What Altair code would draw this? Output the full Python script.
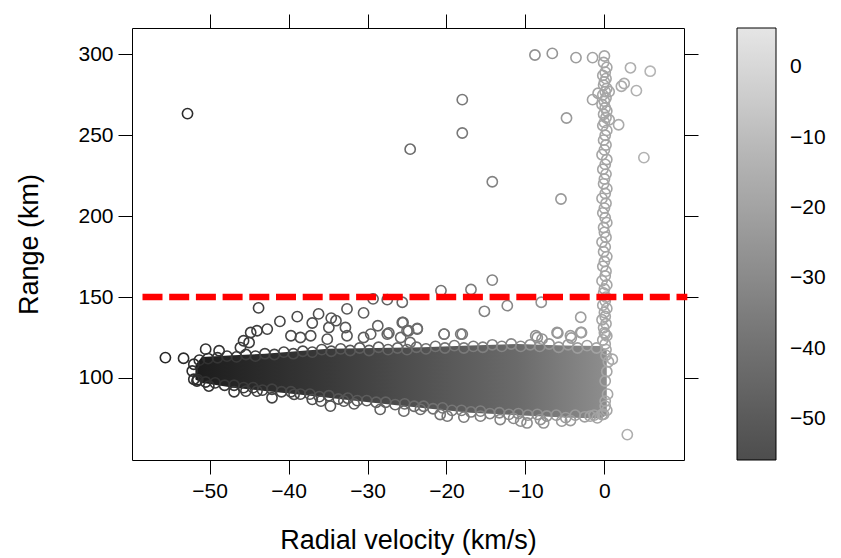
import altair as alt
import pandas as pd

# ---- data ----
# dense core of the cloud (range band of the point centres)
blob_x = [-51.8, -51, -47, -43, -39, -35, -29, -23, -17, -11, -5, -0.5, 0.3]
blob_lo = [99, 97, 94, 92, 90, 87.7, 84.5, 81.5, 78.5, 77, 75.5, 75, 77]
blob_hi = [108, 113, 114, 115, 116.5, 118, 118.5, 119, 120, 121, 120, 119.7, 117]

# circles along the upper edge of the cloud
top_x = [-51.3, -50.2, -49, -47.8, -46.6, -45.4, -44.2, -43, -41.8, -40.6, -39.4, -38.2,
         -37, -35.8, -34.6, -33.4, -32.2, -31, -29.8, -28.6, -27.4, -26.2, -25, -23.8,
         -22.6, -21.4, -20.2, -19, -17.8, -16.6, -15.4, -14.2, -13, -11.8, -10.6, -9.4,
         -8.2, -7, -5.8, -4.6, -3.4, -2.2, -1, 0.2]
top_y = [111, 112, 112.5, 113.5, 113, 114.5, 113.5, 115, 114.5, 116, 115, 116.5,
         116, 117.5, 116.5, 118, 117, 118.5, 117, 119, 117.5, 118.5, 117.5, 119,
         118, 119.5, 118.5, 120, 118.5, 119.5, 119, 120.5, 119.5, 121, 119.5, 120.5,
         119.5, 121, 119, 120.5, 118.5, 120, 118.5, 117.5]

# circles along the lower edge of the cloud
bot_x = [-51.5, -50.5, -49.3, -48.1, -46.9, -45.7, -44.5, -43.3, -42.1, -40.9, -39.7, -38.5,
         -37.3, -36.1, -34.9, -33.7, -32.5, -31.3, -30.1, -28.9, -27.7, -26.5, -25.3, -24.1,
         -22.9, -21.7, -20.5, -19.3, -18.1, -16.9, -15.7, -14.5, -13.3, -12.1, -10.9, -9.7,
         -8.5, -7.3, -6.1, -4.9, -3.7, -2.5, -1.3, -0.1,
         -50.1, -46.9, -45.4, -44, -42.1, -39.3, -37, -35.9, -34.7, -33, -31.7, -28.4,
         -25.4, -23.3, -20.8, -19.9, -17.8, -15.7, -13.2, -11.5, -10.6, -8.1, -9.8, -7.7,
         -5.4, -4.3, -1.8, -0.9]
bot_y = [99, 97.5, 97, 95.5, 95.5, 94, 94, 92.5, 93, 91.5, 91.5, 90,
         90, 88.5, 89, 87, 87.5, 86, 86, 85, 85, 83.5, 84, 82.5,
         82.5, 81, 81.5, 80, 80, 79, 79.5, 78, 78.5, 77.5, 78, 77,
         77.5, 76.5, 77, 75.5, 77, 76, 77, 77.5,
         95, 91.5, 91.9, 91.9, 87.8, 89.9, 86.8, 85.7, 82.6, 85.7, 84, 80.6,
         79.5, 80.6, 77.4, 76.4, 75.8, 76.4, 74.3, 75, 73.3, 74.3, 72.2, 72.2,
         73.3, 73.7, 76.4, 75.3]

# left tip and right edge of the cloud
edge_x = [-52, -52.2, -52, -51.6, 0.3, 0.1, 0.1, -0.3, 0.1, 0.4, 0.3, 0.5, 1.0, 0.2, 2.9]
edge_y = [108.5, 104.3, 99.2, 98.1, 80, 85.7, 82.6, 77.4, 98.1, 90, 104, 110, 111.6, 114, 65]

# scattered circles just above the cloud and below the dashed line
near_x = [-55.6, -53.3, -43.8, -41.1, -38.9, -36.2, -34.6, -34.0, -32.6, -37.0, -34.9, -32.8,
          -30.5, -29.3, -27.5, -25.6, -28.7, -25.6, -27.3, -23.7, -24.8, -44.8, -44, -42.7,
          -45.7, -39.7, -38.5, -37.2, -50.5, -48.8, -46.1, -45, -20.7, -16.9, -14.2, -15.2,
          -12.3, -8.0, -3.0, -2.9, -5.9, -4.2, -8.5, -7.9, -20.3, -18.0, -23.7, -25.0,
          -25.5, -35.1, -32.6, -30.5, -29.6, -27.5, -25.8, -24.6, -20.3, -18.2, -8.7, -6.0,
          -4.3, -3.0, 0.1]
near_y = [112.6, 112.2, 143.3, 135, 137.9, 139.6, 137, 135.4, 142.7, 134, 131.2, 131.2,
          140.2, 148.9, 148.4, 146.8, 132.3, 134.3, 127.8, 130.2, 129.2, 128.1, 129.2, 130.2,
          123, 126.1, 125, 126.1, 117.8, 116.8, 118.8, 121.9, 154, 154.7, 160.5, 141.2,
          144.7, 146.8, 137.5, 128.1, 127.8, 124.7, 125, 124, 127.1, 127.1, 130.6, 129.2,
          134.3, 124, 126.1, 125, 127.1, 127.1, 125, 121.9, 127.1, 127.1, 126.1, 128.1,
          126.1, 128.1, 127.1]

# far outliers
far_x = [-52.8, -18, -18, -24.6, -14.2, -5.5, -4.8, -8.8, -6.6, -3.6, -1.5, 3.3,
         5.8, 2.5, 2.15, 4.05, -1.5, 1.8, 5.0, 0.6, 0.6, -0.8]
far_y = [263.4, 272, 251.4, 241.4, 221.3, 210.6, 260.7, 299.6, 300.6, 298, 298, 291.7,
         289.6, 282, 280.3, 277.6, 272, 256.5, 236.2, 277, 259.6, 276]

# vertical column of circles at zero velocity
col_x = [0.1, -0.2, 0.3, 0.0, -0.1, 0.2, -0.3, 0.1, 0.0, 0.3,
         -0.2, 0.1, 0.2, -0.1, 0.0, 0.3, -0.3, 0.1, 0.2, -0.2,
         0.0, 0.3, -0.1, 0.1, -0.3, 0.2, 0.0, -0.1, 0.3, 0.1,
         -0.2, 0.0, 0.2, -0.3, 0.1, 0.3, -0.1, 0.0, 0.2, -0.2,
         0.1, 0.3, -0.3, 0.0, 0.2, -0.1, 0.1, 0.3, -0.2, 0.0,
         0.2, -0.1, 0.3, 0.1, -0.3, 0.0, 0.2, -0.2, 0.1, 0.3,
         -0.1, 0.0, 0.2, -0.2, 0.1, 0.3, -0.1, 0.0]
col_y = [121, 123.5, 126, 128, 131, 133.5, 136, 138, 140.5, 143,
         145, 147.5, 150, 152.5, 155, 157.5, 160, 163, 166, 169,
         172, 175, 178, 181, 184, 187, 190, 193, 196, 199,
         202, 205, 208, 211, 214, 217, 220, 223, 226, 229,
         232, 235, 238, 241, 244, 247, 250, 253, 256, 258,
         261, 263, 265, 267, 269, 271, 273, 275, 277, 279,
         281, 283, 285, 287, 289, 292, 295, 299]

threshold = [150]
line_from = [-58.5]
line_to = [10.5]

x_ticks = [-50, -40, -30, -20, -10, 0]
y_ticks = [100, 150, 200, 250, 300]
cbar_ticks = [-50, -40, -30, -20, -10, 0]

X_DOM = [-59.83, 10.08]
Y_DOM = [49.3, 316.3]
C_DOM = [-55.8, 5.6]
FONT = "Liberation Sans"

# ---- tables ----
blob = pd.DataFrame({"x": blob_x, "lo": blob_lo, "hi": blob_hi})
pts = pd.DataFrame({
    "x": top_x + bot_x + edge_x + near_x + far_x + col_x,
    "y": top_y + bot_y + edge_y + near_y + far_y + col_y,
})
rule = pd.DataFrame({"x": line_from, "x2": line_to, "y": threshold})

xs = alt.Scale(domain=X_DOM, nice=False, zero=False)
ys = alt.Scale(domain=Y_DOM, nice=False, zero=False)

ax_common = dict(tickSize=14, tickColor="black", tickWidth=1, domain=False, grid=False,
                 labelFont=FONT, labelFontSize=21, labelColor="black",
                 titleFont=FONT, titleFontSize=27, titleColor="black", titleFontWeight="normal")

x_axis = alt.Axis(values=x_ticks, title="Radial velocity (km/s)", labelPadding=6,
                  titlePadding=26, **ax_common)
y_axis = alt.Axis(values=y_ticks, title="Range (km)", labelPadding=5, titlePadding=34,
                  **ax_common)
x_top = alt.Axis(orient="top", values=x_ticks, labels=False, title=None, tickSize=14,
                 tickColor="black", domain=False, grid=False)
y_right = alt.Axis(orient="right", values=y_ticks, labels=False, title=None, tickSize=14,
                   tickColor="black", domain=False, grid=False)

core = alt.Chart(blob).mark_area(
    interpolate="linear",
    color=alt.Gradient(
        gradient="linear",
        stops=[alt.GradientStop(color="#1c1c1c", offset=0),
               alt.GradientStop(color="#393939", offset=0.32),
               alt.GradientStop(color="#6a6a6a", offset=0.78),
               alt.GradientStop(color="#8e8e8e", offset=1)],
        x1=0, x2=1, y1=0, y2=0),
).encode(
    x=alt.X("x:Q", scale=xs, axis=x_axis),
    y=alt.Y("lo:Q", scale=ys, axis=y_axis),
    y2="hi:Q",
)

circles = alt.Chart(pts).mark_point(shape="circle", filled=False, size=105,
                                    strokeWidth=1.6, opacity=1).encode(
    x=alt.X("x:Q", scale=xs, axis=None),
    y=alt.Y("y:Q", scale=ys, axis=None),
    color=alt.Color("x:Q", scale=alt.Scale(domain=C_DOM, range=["#262626", "#b4b4b4"]),
                    legend=None),
)

legend_carrier = alt.Chart(pts).mark_circle(size=0, opacity=1).encode(
    x=alt.X("x:Q", scale=xs, axis=None),
    y=alt.Y("y:Q", scale=ys, axis=None),
    color=alt.Color("x:Q", scale=alt.Scale(domain=C_DOM, range=["#4d4d4d", "#e6e6e6"]),
                    legend=alt.Legend(orient="none", legendX=605, legendY=0, title=None,
                                      direction="vertical", gradientLength=432,
                                      gradientThickness=39, gradientStrokeColor="black",
                                      gradientStrokeWidth=1, values=cbar_ticks,
                                      labelFont=FONT, labelFontSize=21, labelColor="black",
                                      labelOffset=14, labelOverlap=False, padding=0)),
)

dash = alt.Chart(rule).mark_rule(color="#ff0000", strokeWidth=6.5, strokeDash=[20, 6.7],
                                 strokeCap="butt").encode(
    x=alt.X("x:Q", scale=xs, axis=x_top),
    x2="x2:Q",
    y=alt.Y("y:Q", scale=ys, axis=y_right),
)

chart = alt.layer(core, circles, legend_carrier, dash).resolve_scale(
    color="independent"
).resolve_axis(x="independent", y="independent").properties(
    width=552, height=432,
    autosize=alt.AutoSizeParams(type="none"),
    padding={"left": 124, "top": 20, "right": 148, "bottom": 96},
).configure(
    background="white",
    view=alt.ViewConfig(stroke="black", strokeWidth=1),
)

chart.save("out.html", embed_options={"renderer": "svg", "actions": False})
